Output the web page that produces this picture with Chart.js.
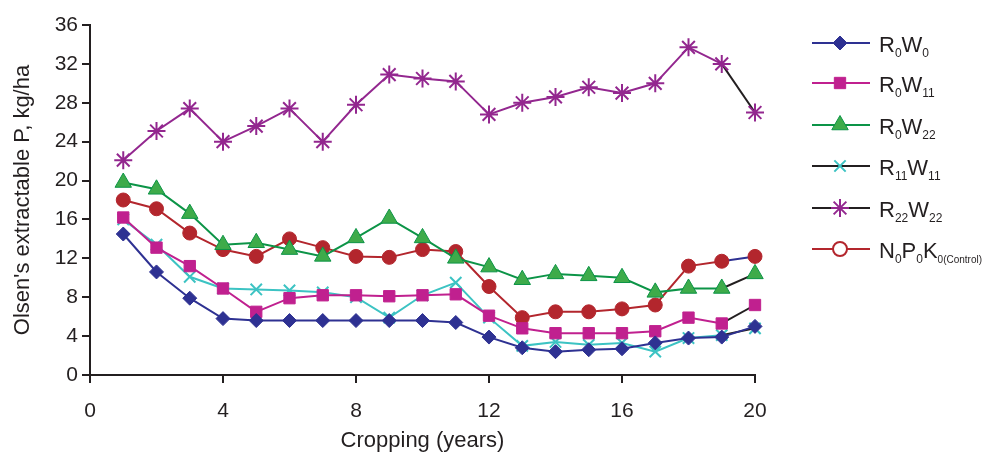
<!DOCTYPE html>
<html>
<head>
<meta charset="utf-8">
<script src="https://cdn.jsdelivr.net/npm/chart.js@4.4.1/dist/chart.umd.min.js"></script>
<style>
  html, body { margin: 0; padding: 0; background: #fff; }
  #wrap { width: 989px; height: 455px; position: relative; }
</style>
</head>
<body>
<div id="wrap"><canvas id="chart"></canvas></div>
<script>
// data
const years = [1, 2, 3, 4, 5, 6, 7, 8, 9, 10, 11, 12, 13, 14, 15, 16, 17, 18, 19, 20];
const r0w0 = [14.5, 10.6, 7.9, 5.8, 5.6, 5.6, 5.6, 5.6, 5.6, 5.6, 5.4, 3.9, 2.8, 2.4, 2.6, 2.7, 3.3, 3.8, 3.9, 5.0];
const r0w11 = [16.2, 13.1, 11.2, 8.9, 6.5, 7.9, 8.2, 8.2, 8.1, 8.2, 8.3, 6.1, 4.8, 4.3, 4.3, 4.3, 4.5, 5.9, 5.3, 7.2];
const r0w22 = [19.8, 19.1, 16.6, 13.4, 13.6, 12.9, 12.2, 14.1, 16.1, 14.1, 12.0, 11.1, 9.8, 10.4, 10.2, 10.0, 8.5, 8.9, 8.9, 10.4];
const r11w11 = [16.0, 13.4, 10.1, 8.9, 8.8, 8.7, 8.5, 8.0, 5.9, 8.2, 9.5, 5.9, 3.0, 3.4, 3.1, 3.3, 2.4, 3.8, 4.1, 4.8];
const r22w22 = [22.1, 25.1, 27.4, 24.0, 25.6, 27.4, 24.0, 27.8, 30.9, 30.5, 30.2, 26.8, 28.0, 28.6, 29.6, 29.0, 30.0, 33.7, 32.0, 27.0];
const control = [18.0, 17.1, 14.6, 12.9, 12.2, 14.0, 13.1, 12.2, 12.1, 12.9, 12.7, 9.1, 5.9, 6.5, 6.5, 6.8, 7.2, 11.2, 11.7, 12.2];
const xTicks = [0, 4, 8, 12, 16, 20];
const yTicks = [0, 4, 8, 12, 16, 20, 24, 28, 32, 36];

// legend labels as [text, subscript size or 0] pieces
const legendNames = [
  [['R', 0], ['0', 12], ['W', 0], ['0', 12]],
  [['R', 0], ['0', 12], ['W', 0], ['11', 12]],
  [['R', 0], ['0', 12], ['W', 0], ['22', 12]],
  [['R', 0], ['11', 12], ['W', 0], ['11', 12]],
  [['R', 0], ['22', 12], ['W', 0], ['22', 12]],
  [['N', 0], ['0', 12], ['P', 0], ['0', 12], ['K', 0], ['0(Control)', 10]]
];

const ink = '#231f20';
const font = "'Liberation Sans', Arial, sans-serif";

function pts(vals) {
  return vals.map((v, i) => ({ x: years[i], y: v }));
}

// last segment of several series is drawn in another colour in the original
function lastSeg(col) {
  return { borderColor: c => c.p1DataIndex === 19 ? col : undefined };
}

const datasets = [
  { label: 'R0W0', data: pts(r0w0), borderColor: '#2e3192', backgroundColor: '#2e3192',
    pointStyle: 'rectRot', pointRadius: 7, pointBorderColor: '#2e3192', legendLine: '#2e3192' },
  { label: 'R0W11', data: pts(r0w11), borderColor: '#c0208f', backgroundColor: '#c0208f',
    pointStyle: 'rect', pointRadius: 8, pointBorderColor: '#c0208f', segment: lastSeg(ink), legendLine: '#c0208f' },
  { label: 'R0W22', data: pts(r0w22), borderColor: '#0c9447', backgroundColor: '#3eab4a',
    pointStyle: 'triangle', pointRadius: 9.5, pointBorderColor: '#0c9447', segment: lastSeg(ink), legendLine: '#0c9447' },
  { label: 'R11W11', data: pts(r11w11), borderColor: '#3cc3c3', backgroundColor: '#3cc3c3',
    pointStyle: 'crossRot', pointRadius: 8, pointBorderColor: '#3cc3c3', pointBorderWidth: 2, segment: lastSeg(ink), legendLine: ink },
  { label: 'R22W22', data: pts(r22w22), borderColor: '#93278f', backgroundColor: '#93278f',
    pointStyle: 'star', pointRadius: 9, pointBorderColor: '#93278f', pointBorderWidth: 2, segment: lastSeg(ink), legendLine: ink },
  { label: 'N0P0K0', data: pts(control), borderColor: '#b3262d', backgroundColor: '#b3262d',
    pointStyle: 'circle', pointRadius: 7, pointBorderColor: '#b3262d', segment: lastSeg('#2e3192'), legendLine: '#b3262d', legendHollow: true }
];
datasets.forEach(d => {
  d.borderWidth = 2;
  d.tension = 0;
  d.clip = false;
  if (!d.pointBorderWidth) d.pointBorderWidth = 1;
});

// legend drawn by hand so the subscripts come out right
const sideLegend = {
  id: 'sideLegend',
  afterDraw(chart) {
    const ctx = chart.ctx;
    const rows = [43, 83, 125, 166, 208, 249];
    chart.data.datasets.forEach((d, i) => {
      const y = rows[i];
      ctx.save();
      ctx.strokeStyle = d.legendLine;
      ctx.lineWidth = 2;
      ctx.beginPath();
      ctx.moveTo(812, y);
      ctx.lineTo(870, y);
      ctx.stroke();
      ctx.fillStyle = d.legendHollow ? '#ffffff' : d.backgroundColor;
      ctx.strokeStyle = d.pointBorderColor;
      ctx.lineWidth = d.legendHollow ? 2 : d.pointBorderWidth;
      Chart.helpers.drawPoint(ctx, {
        pointStyle: d.pointStyle,
        radius: d.pointRadius,
        borderWidth: ctx.lineWidth
      }, 840, y);
      ctx.restore();

      ctx.save();
      ctx.fillStyle = ink;
      ctx.textBaseline = 'alphabetic';
      let x = 879;
      legendNames[i].forEach(([t, sub]) => {
        ctx.font = (sub ? sub + 'px ' : '22px ') + font;
        ctx.fillText(t, x, sub ? y + 14 : y + 9);
        x += ctx.measureText(t).width;
      });
      ctx.restore();
    });
  }
};

new Chart(document.getElementById('chart'), {
  type: 'line',
  data: { datasets },
  plugins: [sideLegend],
  options: {
    responsive: true,
    maintainAspectRatio: false,
    animation: false,
    layout: { padding: { top: 25, right: 234, bottom: 0, left: 0 } },
    plugins: { legend: { display: false }, tooltip: { enabled: false } },
    scales: {
      x: {
        type: 'linear',
        min: 0, max: 20,
        afterBuildTicks: s => { s.ticks = xTicks.map(v => ({ value: v })); },
        afterFit: s => { s.height = 80; },
        ticks: { color: ink, font: { family: font, size: 21 }, padding: 16 },
        grid: { drawOnChartArea: false, drawTicks: true, tickLength: 8, color: ink, lineWidth: 2 },
        border: { display: true, color: ink, width: 2 },
        title: { display: true, text: 'Cropping (years)', color: ink, font: { family: font, size: 22 }, padding: { top: 0, bottom: 1 } }
      },
      y: {
        min: 0, max: 36,
        afterBuildTicks: s => { s.ticks = yTicks.map(v => ({ value: v })); },
        afterFit: s => { s.width = 90; },
        ticks: { color: ink, font: { family: font, size: 21 }, padding: 4 },
        grid: { drawOnChartArea: false, drawTicks: true, tickLength: 8, color: ink, lineWidth: 2 },
        border: { display: true, color: ink, width: 2 },
        title: { display: true, text: "Olsen's extractable P, kg/ha", color: ink, font: { family: font, size: 22 }, padding: { top: 10, bottom: 0 } }
      }
    }
  }
});
</script>
</body>
</html>
